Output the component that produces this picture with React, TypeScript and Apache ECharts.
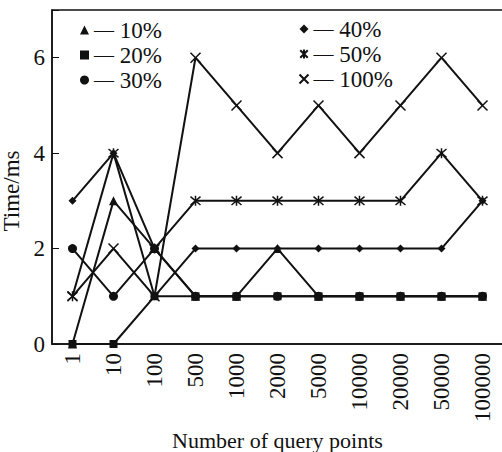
import React, { useEffect, useRef } from 'react';
import * as echarts from 'echarts';

const categories = ['1', '10', '100', '500', '1000', '2000', '5000', '10000', '20000', '50000', '100000'];
const s10 = [0, 3, 2, 1, 1, 2, 1, 1, 1, 1, 1];
const s20 = [0, 0, 1, 1, 1, 1, 1, 1, 1, 1, 1];
const s30 = [2, 1, 2, 1, 1, 1, 1, 1, 1, 1, 1];
const s40 = [3, 4, 1, 2, 2, 2, 2, 2, 2, 2, 3];
const s50 = [1, 4, 2, 3, 3, 3, 3, 3, 3, 4, 3];
const s100 = [1, 2, 1, 6, 5, 4, 5, 4, 5, 6, 5];
const names = ['10%', '20%', '30%', '40%', '50%', '100%'];

const FONT = "'Liberation Serif', 'Times New Roman', serif";
const INK = '#111';
const CROSS = 'path://M0,0L10,10M10,0L0,10';
const STAR = 'path://M0,1L10,11M10,1L0,11M5,0L5,12';

const markers = [
  { symbol: 'triangle', size: 9, stroke: false },
  { symbol: 'rect', size: 8, stroke: false },
  { symbol: 'circle', size: 9, stroke: false },
  { symbol: 'diamond', size: 8, stroke: false },
  { symbol: STAR, size: 10, stroke: true },
  { symbol: CROSS, size: 10, stroke: true },
];

export default function App() {
  const ref = useRef<HTMLDivElement>(null);
  useEffect(() => {
    if (!ref.current) return;
    const chart = echarts.init(ref.current, undefined, { renderer: 'svg' });
    const values = [s10, s20, s30, s40, s50, s100];
    const series = values.map((v, i) => ({
      name: names[i],
      type: 'line',
      data: v,
      symbol: markers[i].symbol,
      symbolSize: markers[i].size,
      showAllSymbol: true,
      lineStyle: { color: INK, width: 2 },
      itemStyle: markers[i].stroke
        ? { color: 'none', borderColor: INK, borderWidth: 1.5 }
        : { color: INK, borderWidth: 0 },
      z: 2,
    }));
    const legendCommon = {
      orient: 'vertical',
      itemWidth: 9,
      itemHeight: 9,
      itemGap: 1,
      padding: 0,
      formatter: (n: string) => '{d|—} ' + n,
      textStyle: {
        fontSize: 23,
        lineHeight: 24,
        fontFamily: FONT,
        color: INK,
        rich: { d: { fontSize: 20, lineHeight: 24, fontFamily: FONT, color: INK } },
      },
    };
    chart.setOption({
      animation: false,
      backgroundColor: '#fff',
      grid: {
        left: 52, top: 10, width: 451, height: 334,
        outerBoundsMode: 'none', containLabel: false,
        show: true, borderColor: INK, borderWidth: 1.5, backgroundColor: 'transparent',
      },
      legend: [
        { ...legendCommon, left: 80, top: 18, data: names.slice(0, 3).map((n, i) => ({ name: n, icon: markers[i].symbol })) },
        { ...legendCommon, left: 297, top: 17, data: names.slice(3).map((n, i) => ({ name: n, icon: markers[i + 3].symbol })) },
      ],
      xAxis: {
        type: 'category',
        data: categories,
        boundaryGap: true,
        name: 'Number of query points',
        nameLocation: 'middle',
        nameGap: 80,
        nameTextStyle: { fontSize: 22, lineHeight: 22, fontFamily: FONT, color: INK },
        axisLine: { lineStyle: { color: INK, width: 1.5 } },
        axisTick: { inside: true, length: 6, alignWithLabel: true, lineStyle: { color: INK } },
        axisLabel: { rotate: 90, margin: 9, fontSize: 23, fontFamily: FONT, color: INK, interval: 0 },
        splitLine: { show: false },
      },
      yAxis: {
        type: 'value',
        min: 0,
        max: 7,
        interval: 2,
        name: 'Time/ms',
        nameLocation: 'middle',
        nameGap: 21,
        nameTextStyle: { fontSize: 23, fontFamily: FONT, color: INK, padding: [0, 28, 0, 0] },
        axisLine: { show: true, lineStyle: { color: INK, width: 1.5 } },
        axisTick: { show: true, inside: true, length: 7, lineStyle: { color: INK } },
        axisLabel: {
          margin: 7,
          fontSize: 23,
          fontFamily: FONT,
          color: INK,
          formatter: (v: number) => (v === 7 ? '' : String(v)),
        },
        splitLine: { show: false },
      },
      series,
    });
    return () => chart.dispose();
  }, []);
  return <div ref={ref} style={{ position: 'fixed', left: 0, top: 0, width: 502, height: 452, background: '#fff' }} />;
}
